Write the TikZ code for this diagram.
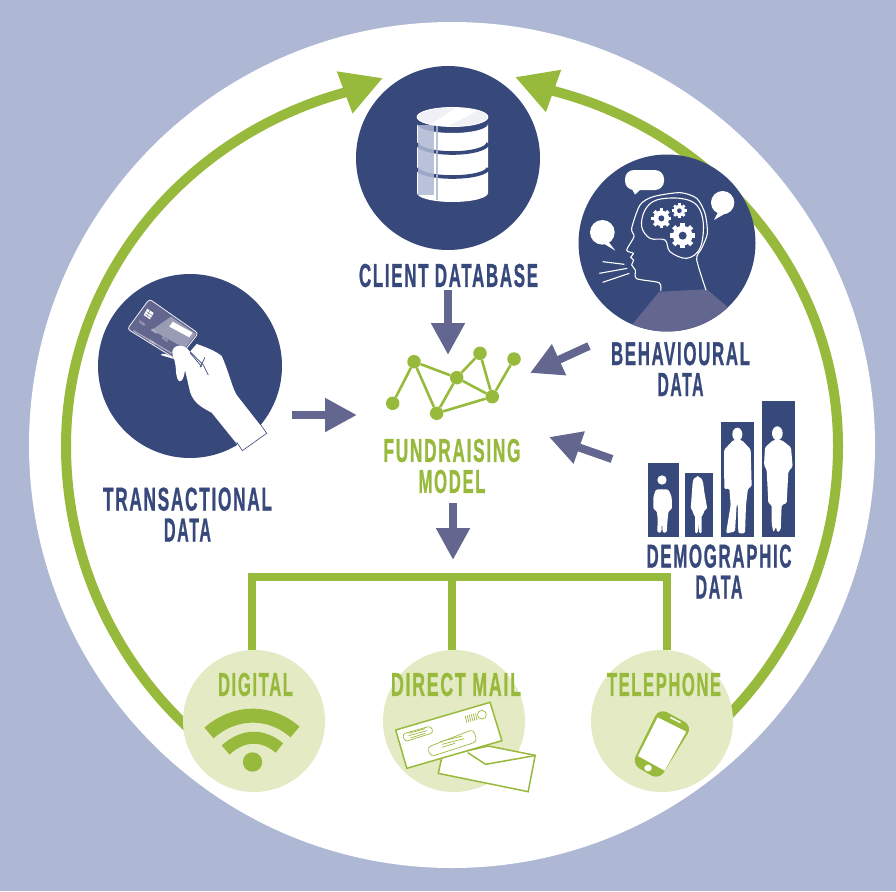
\documentclass[tikz,border=0pt]{standalone}
\usepackage{fontspec}
\usetikzlibrary{arrows.meta}
\newfontfamily\capsfont[LetterSpace=10,FakeBold=1.2]{Liberation Sans}
\definecolor{bgblue}{HTML}{AEB8D4}
\definecolor{navy}{HTML}{37487B}
\definecolor{leaf}{HTML}{98BA3C}
\definecolor{paleleaf}{HTML}{E4EBC4}
\definecolor{dusk}{HTML}{63668F}
\newcommand{\fitcaps}[2]{\resizebox{#1pt}{23pt}{#2}}
\newcommand{\cog}[4]{\foreach \a in {0,45,...,315} \draw[white,line width=#3*0.12pt] (#1,#2) -- +(\a:#3); \fill[white] (#1,#2) circle (#3*0.78); \fill[navy] (#1,#2) circle (#4);}
\tikzset{
 disc/.style={circle,fill=navy,minimum size=184pt,inner sep=0pt},
 channel/.style={circle,fill=paleleaf,minimum size=142pt,inner sep=0pt},
 caps/.style={inner sep=0pt,align=center,font=\capsfont\bfseries\fontsize{20}{31}\selectfont},
 navylab/.style={caps,text=navy},
 leaflab/.style={caps,text=leaf},
 flow/.style={draw=dusk,line width=8pt,-{Triangle[length=32pt,width=32pt]}},
 ring/.style={draw=leaf,line width=10pt,-{Triangle[length=41pt,width=42pt]}},
 tree/.style={draw=leaf,line width=7.5pt},
 netdot/.style={circle,fill=leaf,minimum size=13.5pt,inner sep=0pt},
 netline/.style={draw=leaf,line width=2.6pt},
 mailline/.style={draw=leaf,line width=1.5pt,fill=white},
 thinline/.style={draw=leaf,line width=.7pt},
 cardnum/.style={text=white,font=\sffamily\fontsize{3.2}{4}\selectfont,rotate=-34,inner sep=0pt}
}
\begin{document}
\begin{tikzpicture}[x=1pt,y=-1pt]
 \useasboundingbox (0,0) rectangle (896,891);
 \fill[bgblue] (0,0) rectangle (896,891);
 \fill[white] (452,445) circle (423);
 \coordinate (hub) at (452,446); \coordinate (tipl) at (383,78); \coordinate (tipr) at (515,77);
 \draw[ring] (hub) ++(130:386) arc[start angle=130,end angle=180,x radius=386,y radius=386] arc[start angle=180,end angle=253.7,x radius=386,y radius=368] -- (tipl);
 \draw[ring] (hub) ++(46:386) arc[start angle=46,end angle=0,x radius=386,y radius=386] arc[start angle=0,end angle=-74.7,x radius=386,y radius=368] -- (tipr);
 \coordinate (busl) at (252,577); \coordinate (busm) at (452,577); \coordinate (busr) at (667,577);
 \node[channel] (digital) at (254,721) {}; \node[channel] (mail) at (454,721) {}; \node[channel] (telephone) at (662,721) {};
 \draw[tree] (busl |- digital.north) -- (busl) -- (busr) -- (busr |- telephone.north); \draw[tree] (busm) -- (busm |- mail.north);

 \node[disc] (client) at (448,158) {}; \node[disc] (transact) at (190,366) {}; \node[disc,minimum size=177pt] (behave) at (667,243) {};

 \begin{scope} \fill[white] (417,124) -- (417,193) arc[start angle=180,end angle=0,x radius=35.5,y radius=9] -- (488,124) arc[start angle=0,end angle=180,x radius=35.5,y radius=9] -- cycle; \draw[navy,line width=3.6pt] (417,143) arc[start angle=180,end angle=0,x radius=35.5,y radius=10]; \draw[navy,line width=3.6pt] (417,168) arc[start angle=180,end angle=0,x radius=35.5,y radius=9]; \fill[bgblue,opacity=.85] (418,125) rectangle (434,195); \fill[bgblue,opacity=.85] (435.5,125) rectangle (438,200); \begin{scope} \clip (452.5,117) ellipse (35.5 and 9.5); \fill[white] (417,105) rectangle (488,130); \fill[white!80!bgblue] (417,128) -- (417,105) -- (460,105) -- (425,128) -- cycle; \fill[white!80!bgblue] (445,128) -- (488,105) -- (488,128) -- cycle; \end{scope} \draw[white,line width=.8pt] (452.5,117) ellipse (35.5 and 9.5); \end{scope}

 \begin{scope} \clip (667,243) circle (88.5); \fill[dusk] (632.7,324) -- (659.3,291.7) -- (706.7,289.3) -- (727.3,306.7) -- (727.3,340) -- (632.7,340) -- cycle; \end{scope}
 \begin{scope}[shift={(590,170)},scale=1/3]
  \draw[white,line width=1.1pt] plot[smooth,tension=.45] coordinates {(212,362) (207,338) (140,326) (136,300) (125,285) (131,270) (122,262) (130,250) (110,240) (132,200) (125,175) (150,105) (190,80) (270,68) (320,85) (345,130) (352,190) (335,235) (320,268) (348,360)};
  \draw[white,line width=1.1pt] plot[smooth cycle,tension=.6] coordinates {(165,120) (155,170) (180,205) (225,210) (240,245) (290,265) (330,235) (340,160) (320,105) (270,85) (200,90)};
  \cog{214}{145}{30}{9} \cog{268}{122}{22}{7} \cog{278}{197}{38}{12}
  \fill[white,rounded corners=9pt] (105,0) rectangle (222,60); \fill[white] (125,55) -- (135,74) -- (155,55) -- cycle;
  \fill[white] (398,98) circle (35); \fill[white] (385,125) -- (372,150) -- (415,125) -- cycle;
  \fill[white] (37,187) circle (37); \fill[white] (55,215) -- (76,242) -- (40,220) -- cycle;
  \draw[white,line width=1.1pt] (38,275) -- (103,283); \draw[white,line width=1.1pt] (28,310) -- (112,295); \draw[white,line width=1.1pt] (38,337) -- (118,310);
 \end{scope}

 \begin{scope}[shift={(90,270)},scale=1/3]
  \draw[white,line width=.7pt,fill=dusk,rounded corners=3pt] (178,87) -- (325,190) -- (262,270) -- (112,177) -- cycle;
  \fill[white!35!dusk] (185,180) -- (243,140) -- (318,192) -- (285,235) -- cycle;
  \fill[white] (248,155) -- (308,188) -- (298,202) -- (238,170) -- cycle;
  \draw[white!45!dusk,line width=1.2pt] (130,182) -- (245,250);
  \fill[white] (177,132) ++(-5,-16) -- ++(19,13) -- ++(-11,19) -- ++(-19,-13) -- cycle; \draw[dusk,line width=.4pt] (170,125) -- (186,136); \draw[dusk,line width=.4pt] (166,132) -- (182,143); \draw[dusk,line width=.4pt] (180,120) -- (171,140);
  \fill[white] (320,222) .. controls (350,232) and (380,245) .. (395,258) .. controls (415,300) and (425,350) .. (440,375) -- (530,490) -- (457,542) -- (365,428) .. controls (340,415) and (310,400) .. (300,365) -- (285,300) .. controls (282,330) and (270,345) .. (262,325) .. controls (255,310) and (262,290) .. (248,255) .. controls (240,225) and (280,215) .. (300,245) -- cycle;
  \fill[white] (212,255) .. controls (215,245) and (240,255) .. (255,268) -- cycle;
  \draw[navy,line width=.7pt] (300,245) -- (340,285) -- (355,315); \draw[navy,line width=.7pt] (345,262) -- (330,292); \draw[navy,line width=.7pt] (300,248) -- (335,290);
  \draw[navy,line width=.6pt] (513,465) -- (530,490) -- (457,542) -- (440,516);
 \end{scope}
 \foreach \i/\x/\y in {1/142.3/323.3,2/154/331.7,3/165/340,4/152.5/343} \node[cardnum] (num\i) at (\x,\y) {0000};

 \fill[navy] (647.7,463.3) rectangle (679,537.3); \fill[navy] (685.3,473.3) rectangle (712.7,537.3); \fill[navy] (721,421.7) rectangle (754,537.3); \fill[navy] (762,401) rectangle (794.7,537.3);
 \begin{scope}[shift={(630,390)},scale=1/3,white,rounded corners=1.5pt]
  \fill (96,270) circle (14); \fill (78,298) -- (115,298) -- (125,320) -- (126,358) -- (116,362) -- (113,385) -- (110,428) -- (98,428) -- (96,395) -- (94,428) -- (82,428) -- (83,385) -- (80,362) -- (70,358) -- (70,320) -- cycle;
  \fill (203,262) .. controls (190,262) and (188,275) .. (187,290) -- (182,358) -- (190,362) -- (188,372) -- (195,375) -- (195,430) -- (203,430) -- (205,400) -- (207,430) -- (215,430) -- (215,375) -- (222,372) -- (222,360) -- (232,358) -- (222,300) .. controls (220,275) and (216,262) .. (203,262) -- cycle;
  \fill (322,133) ellipse (15 and 20); \fill (310,150) -- (335,150) -- (362,178) -- (365,290) -- (354,295) -- (348,345) -- (345,430) -- (325,430) -- (323,340) -- (320,345) -- (315,425) -- (288,430) -- (302,345) -- (298,295) -- (283,298) -- (282,180) -- cycle;
  \fill (442,130) ellipse (16 and 21); \fill (430,150) -- (455,150) -- (483,172) -- (488,230) -- (475,245) -- (470,340) -- (455,345) -- (452,420) -- (442,428) -- (438,410) -- (430,428) -- (425,400) -- (425,345) -- (415,340) -- (410,240) -- (402,225) -- (405,172) -- cycle;
 \end{scope}

 \coordinate (a1) at (448,290); \coordinate (b1) at (448,355); \coordinate (a2) at (589,346); \coordinate (b2) at (530,373); \coordinate (a3) at (292,415); \coordinate (b3) at (357,415); \coordinate (a4) at (612,459); \coordinate (b4) at (549,437); \coordinate (a5) at (453,503); \coordinate (b5) at (453,560);
 \foreach \i in {1,...,5} \draw[flow] (a\i) -- (b\i);

 \foreach \n/\x/\y in {n1/392.7/403.3,n2/414/361.7,n3/436.7/413.3,n4/456.7/377.7,n5/480/353.3,n6/514/359,n7/492.3/396.7} \node[netdot] (\n) at (\x,\y) {};
 \foreach \a/\b in {n1/n2,n2/n3,n2/n4,n3/n4,n3/n7,n4/n5,n4/n7,n5/n7,n6/n7} \draw[netline] (\a) -- (\b);

 \node[navylab] (clientlab) at (448.5,275.5) {\fitcaps{179}{CLIENT DATABASE}};
 \node[navylab] (behavelab) at (680.5,369) {\fitcaps{139}{BEHAVIOURAL}\\\fitcaps{46}{DATA}};
 \node[navylab] (transactlab) at (187.5,514.5) {\fitcaps{169}{TRANSACTIONAL}\\\fitcaps{47}{DATA}};
 \node[navylab] (demolab) at (719,571.5) {\fitcaps{145}{DEMOGRAPHIC}\\\fitcaps{47}{DATA}};
 \node[leaflab] (modellab) at (452,466) {\fitcaps{137}{FUNDRAISING}\\\fitcaps{67}{MODEL}};
 \node[leaflab] (digitallab) at (255.5,684.5) {\fitcaps{75}{DIGITAL}};
 \node[leaflab] (maillab) at (456,684.5) {\fitcaps{130}{DIRECT MAIL}};
 \node[leaflab] (phonelab) at (664,684.5) {\fitcaps{114}{TELEPHONE}};

 \draw[leaf,line width=14pt] (209,733) .. controls (235,710) and (270,710) .. (295,732);
 \draw[leaf,line width=12pt] (225.6,750) .. controls (243,734) and (263,734) .. (279.4,748);
 \fill[leaf] (252.5,762) circle (9.7);

 \begin{scope}[shift={(170,640)},xscale=.37,yscale=1/3]
  \draw[mailline] (735,350) -- (725,400) -- (968,455) -- (987,346) -- (860,318) -- cycle; \draw[mailline] (805,338) -- (853,373) -- (985,347);
  \draw[mailline] (610,270) -- (865,187) -- (897,302) -- (640,385) -- cycle;
  \draw[thinline,rounded corners=3pt] (628,282) -- (705,258) -- (712,278) -- (635,305) -- cycle;
  \draw[thinline] (645,280) -- (690,266); \draw[thinline] (645,287) -- (695,272); \draw[thinline] (650,294) -- (690,280);
  \draw[thinline,rounded corners=4pt] (695,322) -- (820,268) -- (830,305) -- (705,350) -- cycle;
  \draw[thinline] (730,305) -- (790,288); \draw[thinline] (735,313) -- (795,296); \draw[thinline] (735,322) -- (770,310);
  \foreach \i in {0,...,5} \draw[thinline] (798+\i*5.5,228-\i*1.6) -- (802+\i*5.5,248-\i*1.6);
  \draw[thinline] (843,224) ellipse (12 and 13);
  \fill[leaf,rounded corners=9pt] (1322,204) -- (1412,258) -- (1322,420) -- (1248,372) -- cycle;
  \fill[white] (1318,232) -- (1395,275) -- (1337,392) -- (1265,348) -- cycle;
  \fill[white] (1292,384) ellipse (10 and 10); \draw[white,line width=1.4pt] (1352,232) -- (1380,248);
 \end{scope}
\end{tikzpicture}
\end{document}
